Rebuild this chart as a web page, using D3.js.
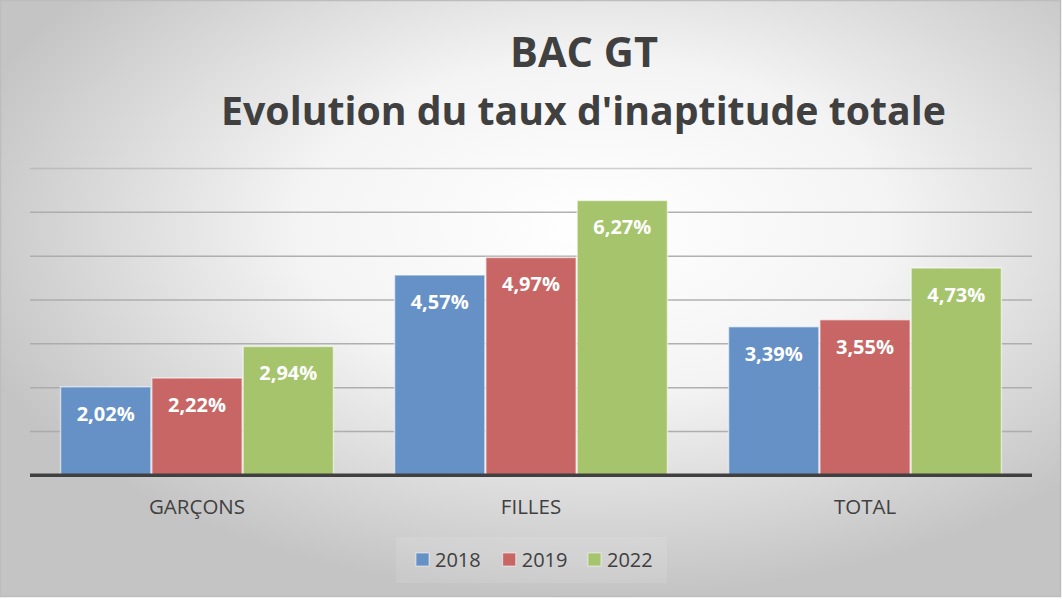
<!DOCTYPE html>
<html>
<head>
<meta charset="utf-8">
<script src="https://cdn.jsdelivr.net/npm/d3@7"></script>
<style>
  body { margin: 0; background: #fff; }
  svg { display: block; font-family: "Open Sans", sans-serif; }
</style>
</head>
<body>
<div id="chart"></div>
<script>
const categories = ["GARÇONS", "FILLES", "TOTAL"];
const years = ["2018", "2019", "2022"];
const values2018 = [2.02, 4.57, 3.39];
const values2019 = [2.22, 4.97, 3.55];
const values2022 = [2.94, 6.27, 4.73];
const yTicks = [0, 1, 2, 3, 4, 5, 6, 7];
const colors = ["#6591c6", "#c76664", "#a5c46c"];

const series = [values2018, values2019, values2022];

const W = 1062, H = 600;

const svg = d3.select("#chart").append("svg")
  .attr("width", W)
  .attr("height", H);

// background gradient
const defs = svg.append("defs");
const grad = defs.append("radialGradient")
  .attr("id", "bg")
  .attr("cx", "56%").attr("cy", "38%").attr("r", "62%");
grad.append("stop").attr("offset", "0%").attr("stop-color", "#ffffff");
grad.append("stop").attr("offset", "45%").attr("stop-color", "#f4f4f4");
grad.append("stop").attr("offset", "100%").attr("stop-color", "#c4c4c4");

svg.append("rect")
  .attr("x", 0.5).attr("y", 0.5)
  .attr("width", W - 2).attr("height", 596)
  .attr("fill", "url(#bg)")
  .attr("stroke", "#bdbdbd")
  .attr("stroke-width", 1.5);

// scales
const x0 = d3.scaleBand()
  .domain(categories)
  .range([30, 1032])
  .paddingInner(0.18)
  .paddingOuter(0.09);

const x1 = d3.scaleBand()
  .domain(years)
  .range([0, x0.bandwidth()]);

const y = d3.scaleLinear()
  .domain([0, 7])
  .range([475.3, 168.5]);

// gridlines
svg.append("g")
  .selectAll("line")
  .data(yTicks.filter(d => d > 0))
  .enter()
  .append("line")
  .attr("x1", 30).attr("x2", 1032)
  .attr("y1", d => y(d)).attr("y2", d => y(d))
  .attr("stroke", "#a9a9a9")
  .attr("stroke-opacity", d => d === 7 ? 0.55 : 0.9)
  .attr("stroke-width", 1.5);

// bars
const groups = svg.append("g")
  .selectAll("g")
  .data(categories)
  .enter()
  .append("g")
  .attr("transform", d => "translate(" + x0(d) + ",0)");

groups.selectAll("rect")
  .data((c, i) => years.map((yr, j) => ({ year: yr, value: series[j][i], j: j })))
  .enter()
  .append("rect")
  .attr("x", d => x1(d.year) + 0.5)
  .attr("width", x1.bandwidth() - 1)
  .attr("y", d => y(d.value))
  .attr("height", d => y(0) - y(d.value))
  .attr("fill", d => colors[d.j])
  .attr("stroke", "rgba(255,255,255,0.55)")
  .attr("stroke-width", 1.5);

groups.selectAll("text")
  .data((c, i) => years.map((yr, j) => ({ year: yr, value: series[j][i] })))
  .enter()
  .append("text")
  .attr("x", d => x1(d.year) + x1.bandwidth() / 2)
  .attr("y", d => y(d.value) + 34)
  .attr("text-anchor", "middle")
  .attr("fill", "#ffffff")
  .attr("font-weight", "bold")
  .attr("font-size", 20)
  .text(d => d.value.toFixed(2).replace(".", ",") + "%");

// axis line
svg.append("line")
  .attr("x1", 30).attr("x2", 1032)
  .attr("y1", y(0)).attr("y2", y(0))
  .attr("stroke", "#404040")
  .attr("stroke-width", 3.5);

// category labels
svg.append("g")
  .selectAll("text")
  .data(categories)
  .enter()
  .append("text")
  .attr("x", d => x0(d) + x0.bandwidth() / 2)
  .attr("y", 513.5)
  .attr("text-anchor", "middle")
  .attr("fill", "#404040")
  .attr("font-size", 20.5)
  .text(d => d);

// title
function fitWidth(sel, target) {
  const len = sel.node().getComputedTextLength();
  const size = parseFloat(sel.attr("font-size"));
  sel.attr("font-size", size * target / len);
}

const t1 = svg.append("text")
  .attr("x", 584).attr("y", 66.5)
  .attr("text-anchor", "middle")
  .attr("fill", "#404040")
  .attr("font-weight", "bold")
  .attr("font-size", 40)
  .text("BAC GT");
fitWidth(t1, 148);

const t2 = svg.append("text")
  .attr("x", 583.5).attr("y", 125)
  .attr("text-anchor", "middle")
  .attr("fill", "#404040")
  .attr("font-weight", "bold")
  .attr("font-size", 40)
  .text("Evolution du taux d'inaptitude totale");
fitWidth(t2, 725);

// legend
svg.append("rect")
  .attr("x", 396).attr("y", 537)
  .attr("width", 271).attr("height", 46)
  .attr("fill", "#ffffff")
  .attr("fill-opacity", 0.1);

const legendX = [416, 502.7, 588];
const legend = svg.append("g")
  .selectAll("g")
  .data(years)
  .enter()
  .append("g")
  .attr("transform", (d, i) => "translate(" + legendX[i] + ",553)");

legend.append("rect")
  .attr("width", 13).attr("height", 13)
  .attr("fill", (d, i) => colors[i])
  .attr("stroke", "rgba(255,255,255,0.55)")
  .attr("stroke-width", 1);

legend.append("text")
  .attr("x", 19).attr("y", 13.7)
  .attr("fill", "#404040")
  .attr("font-size", 20)
  .text(d => d);
</script>
</body>
</html>
